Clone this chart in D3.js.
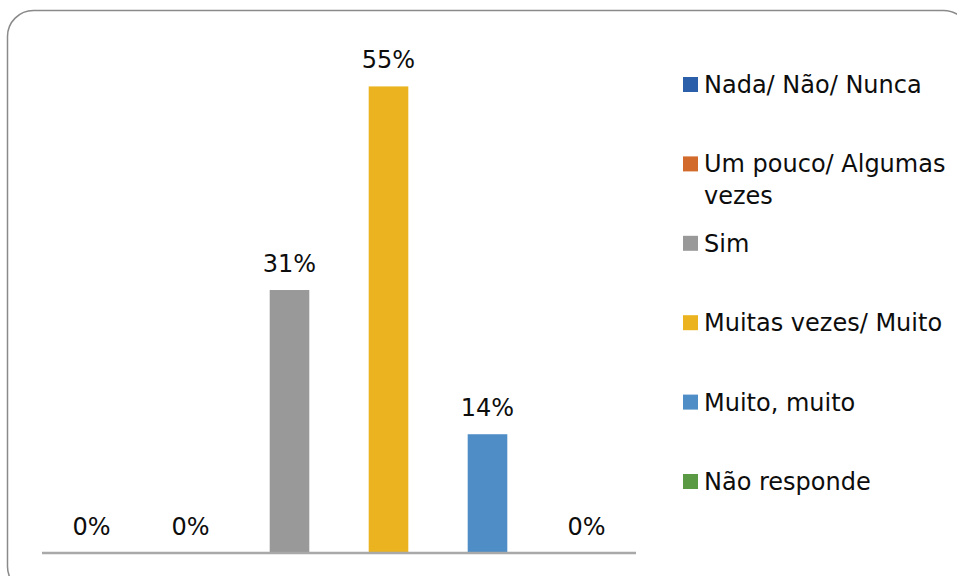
<!DOCTYPE html>
<html>
<head>
<meta charset="utf-8">
<script src="https://cdn.jsdelivr.net/npm/d3@7"></script>
<style>
 body { margin: 0; background: #fff; }
 svg { display: block; }
 text { font-family: "DejaVu Sans", sans-serif; fill: #0d0d0d; }
</style>
</head>
<body>
<div id="chart"></div>
<script>
// answer categories and share of answers (%)
var categories = ['Nada/ Não/ Nunca', 'Um pouco/ Algumas vezes', 'Sim', 'Muitas vezes/ Muito', 'Muito, muito', 'Não responde'];
var values = [0, 0, 31, 55, 14, 0];
var colors = ['#2c5faa', '#d26a2b', '#999999', '#ebb31f', '#4e8dc5', '#5a9a45'];

var width = 957, height = 576;

var svg = d3.select('#chart').append('svg')
 .attr('width', width)
 .attr('height', height);

// rounded frame, runs past the right and bottom edges
svg.append('rect')
 .attr('x', 7.5).attr('y', 10.5)
 .attr('width', 962).attr('height', 582)
 .attr('rx', 26).attr('ry', 26)
 .style('fill', 'none')
 .style('stroke', '#8a8a8a')
 .style('stroke-width', 1.5);

var x = d3.scaleBand()
 .domain(categories)
 .range([42, 636])
 .paddingInner(0.6)
 .paddingOuter(0.3);

var y = d3.scaleLinear()
 .domain([0, 60])
 .range([553, 44]);

// bars
svg.append('g').selectAll('rect')
 .data(categories)
 .enter().append('rect')
 .attr('x', function(d){ return x(d); })
 .attr('y', function(d, i){ return y(values[i]); })
 .attr('width', x.bandwidth())
 .attr('height', function(d, i){ return y(0) - y(values[i]); })
 .style('fill', function(d, i){ return colors[i]; });

// axis line
svg.append('line')
 .attr('x1', 42).attr('x2', 636)
 .attr('y1', y(0)).attr('y2', y(0))
 .style('stroke', '#a9a9a9')
 .style('stroke-width', 2.5);

// value labels
svg.append('g').selectAll('text')
 .data(categories)
 .enter().append('text')
 .attr('x', function(d){ return x(d) + x.bandwidth()/2; })
 .attr('y', function(d, i){ return y(values[i]) - 18; })
 .attr('text-anchor', 'middle')
 .style('font-size', '24px')
 .text(function(d, i){ return values[i] + '%'; });

// legend
var legendX = 683, legendTop = 93, legendStep = 79.4, maxTextWidth = 245;
var legend = svg.append('g').selectAll('g')
 .data(categories)
 .enter().append('g')
 .attr('transform', function(d, i){ return 'translate(' + legendX + ',' + (legendTop + i*legendStep) + ')'; });

legend.append('rect')
 .attr('x', 0).attr('y', -16)
 .attr('width', 15).attr('height', 15)
 .style('fill', function(d, i){ return colors[i]; });

legend.append('text')
 .attr('x', 21).attr('y', 0)
 .style('font-size', '24px')
 .each(function(d)
 {
  // wrap long labels word by word
  var t = d3.select(this);
  var words = d.split(' ');
  var line = [];
  var tspan = t.append('tspan').attr('x', 21).attr('dy', 0);
  for(var k = 0; k < words.length; k++)
  {
   line.push(words[k]);
   tspan.text(line.join(' '));
   if(tspan.node().getComputedTextLength() > maxTextWidth && line.length > 1)
   {
    line.pop();
    tspan.text(line.join(' '));
    line = [words[k]];
    tspan = t.append('tspan').attr('x', 21).attr('dy', 32).text(words[k]);
   }
  }
 });
</script>
</body>
</html>
